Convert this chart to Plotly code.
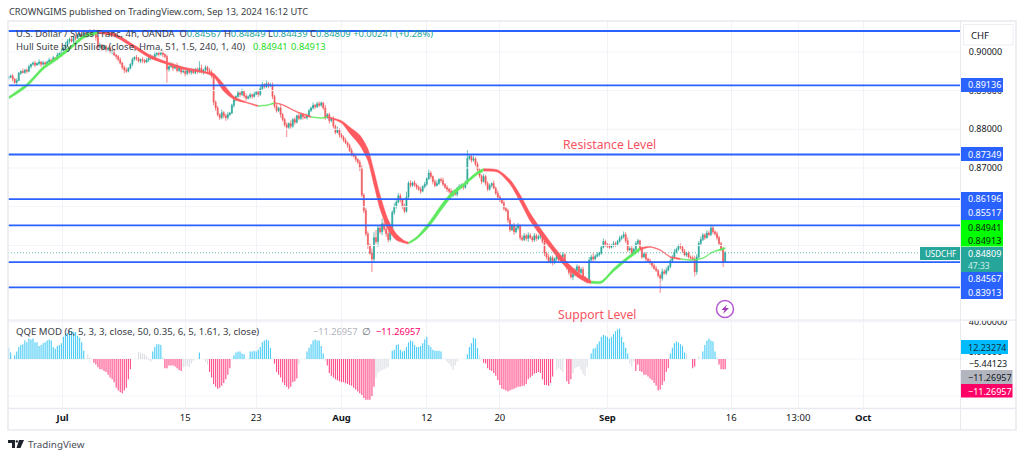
import plotly.graph_objects as go

W, H = 1024, 458

close_pips = [
 8935,8938,8930,8921,8926,8945,8950,8947,8953,8950,
 8962,8968,8971,8966,8970,8974,8968,8972,8969,8974,
 8979,8976,8985,8983,8992,8996,9002,9010,9018,9028,
 9033,9027,9038,9035,9042,9046,9040,9048,9044,9050,
 9046,9052,9049,9038,9012,9018,9009,9014,9006,9010,
 9000,9003,8992,8988,8980,8971,8960,8953,8950,8957,
 8968,8981,8986,8983,8976,8980,8978,8974,8979,8984,
 8988,8985,8993,8997,8994,8998,8993,8988,8955,8962,
 8968,8958,8965,8952,8958,8948,8950,8944,8952,8947,
 8951,8946,8955,8950,8958,8947,8953,8960,8952,8948,
 8938,8870,8855,8838,8830,8843,8835,8830,8838,8842,
 8862,8876,8885,8894,8890,8898,8886,8880,8884,8889,
 8885,8891,8896,8890,8905,8916,8910,8918,8912,8915,
 8885,8860,8848,8855,8838,8825,8812,8805,8815,8808,
 8825,8818,8835,8828,8838,8832,8830,8835,8848,8855,
 8862,8858,8866,8862,8868,8855,8830,8838,8822,8828,
 8808,8792,8800,8785,8780,8772,8765,8758,8745,8735,
 8730,8722,8715,8700,8630,8590,8530,8500,8480,8465,
 8520,8510,8545,8535,8556,8542,8530,8515,8535,8585,
 8600,8612,8628,8618,8600,8588,8625,8661,8655,8662,
 8656,8650,8645,8640,8652,8658,8672,8687,8678,8665,
 8655,8660,8670,8668,8658,8650,8645,8640,8630,8638,
 8632,8648,8652,8656,8650,8660,8725,8730,8720,8724,
 8710,8695,8680,8665,8678,8660,8645,8655,8660,8648,
 8635,8625,8618,8610,8595,8590,8565,8540,8552,8535,
 8545,8550,8520,8515,8525,8518,8526,8520,8514,8525,
 8518,8522,8525,8510,8480,8470,8458,8468,8455,8465,
 8475,8462,8470,8476,8455,8442,8430,8418,8425,8435,
 8445,8430,8438,8418,8410,8405,8462,8470,8465,8472,
 8476,8480,8495,8510,8502,8498,8495,8500,8505,8502,
 8510,8518,8522,8528,8512,8488,8492,8480,8490,8505,
 8512,8490,8470,8478,8465,8460,8455,8448,8440,8435,
 8422,8415,8432,8428,8436,8445,8460,8470,8483,8490,
 8498,8496,8485,8475,8480,8470,8468,8465,8432,8470,
 8505,8515,8527,8520,8532,8528,8545,8535,8530,8520,
 8505,8490,8457,8481,
]
upper_wick = [
 4,3,5,2,6,3,2,7,3,4,
 5,2,4,6,3,7,2,5,3,4,
 6,3,5,2,7,4,6,3,8,5,
 4,7,3,6,5,2,8,4,6,3,
 9,4,7,3,5,6,2,5,4,3,
 6,3,5,2,4,6,3,5,7,4,
 3,5,2,6,4,3,7,4,5,2,
 6,3,8,4,5,3,6,4,5,3,
 6,4,3,7,5,2,6,3,5,4,
 3,6,4,5,18,9,3,5,4,6,
 5,7,4,6,3,8,4,5,7,3,
 4,6,3,5,4,7,3,6,4,5,
 3,6,4,5,7,6,3,8,4,5,
 6,4,5,3,7,4,5,6,3,8,
 4,6,3,7,5,4,3,6,5,4,
 7,3,5,6,4,3,8,4,5,3,
 6,4,7,3,5,4,6,3,5,7,
 4,5,3,6,8,5,7,6,5,12,
 14,20,6,9,13,7,5,8,10,6,
 9,5,7,6,4,8,14,5,7,3,
 6,4,5,7,3,6,4,9,5,3,
 6,8,4,5,7,3,6,4,8,5,
 7,3,6,4,5,8,21,6,5,7,
 4,6,5,3,7,4,6,5,3,8,
 4,7,5,3,6,4,5,7,3,6,
 5,8,4,6,7,5,8,6,4,7,
 5,6,4,3,5,4,7,5,6,4,
 5,7,3,6,4,5,8,6,4,7,
 6,4,5,7,3,5,8,6,10,5,
 7,4,6,8,5,4,7,3,6,5,
 4,7,5,8,6,9,5,7,4,6,
 5,3,6,4,5,3,6,4,5,7,
 4,5,8,6,7,4,6,5,8,4,
 5,7,4,6,3,5,4,6,8,7,
 6,8,5,4,7,6,9,5,4,6,
 5,4,6,4,
]
lower_wick = [
 5,3,6,4,7,2,5,3,4,6,
 3,5,4,6,2,5,7,3,6,4,
 5,7,3,6,4,2,5,6,3,4,
 7,3,5,6,2,4,6,3,5,4,
 3,7,5,9,8,4,6,3,7,5,
 4,6,3,7,5,4,6,8,4,3,
 2,5,4,6,3,5,7,4,3,5,
 6,4,3,5,6,4,7,5,35,6,
 4,7,3,5,4,6,3,7,4,5,
 6,3,4,7,5,3,6,4,5,7,
 6,8,7,5,6,4,7,8,5,4,
 3,6,4,3,7,4,5,6,3,5,
 6,4,3,7,4,3,5,4,6,3,
 7,6,5,4,8,5,6,25,5,7,
 4,6,3,5,4,7,3,5,4,3,
 4,6,3,5,4,5,6,3,7,4,
 6,5,3,7,4,5,3,6,4,5,
 3,6,4,8,5,7,6,9,5,34,
 7,6,14,5,9,6,8,7,5,4,
 6,5,3,7,6,5,4,3,6,4,
 5,6,4,7,3,5,4,3,6,7,
 5,3,4,6,5,4,7,6,3,5,
 4,6,3,5,7,4,3,5,6,4,
 5,4,6,7,3,6,5,4,6,3,
 5,4,6,3,5,4,7,6,3,8,
 4,6,7,5,4,6,9,4,6,5,
 7,4,6,5,8,6,4,5,7,4,
 6,5,4,3,7,5,6,4,8,5,
 6,7,4,5,6,4,3,5,6,4,
 3,5,4,3,6,5,4,3,5,6,
 4,3,5,4,6,5,3,7,4,3,
 4,6,5,3,6,4,5,6,3,4,
 5,38,6,4,5,3,4,5,3,4,
 4,6,5,3,5,4,6,5,12,8,
 3,5,4,6,3,5,4,6,5,7,
 6,5,13,0,
]

hull_bar = [0,9,17,24,31,37,44,52,62,70,78,86,96,101,106,111,118,123,128,131,135,142,149,154,157,164,168,173,177,180,183,187,191,195,197,201,207,213,218,224,231,234,241,247,252,257,262,268,275,282,287,292,298,305,311,316,321,326,331,336,342,347,353]
hull_fast = [8884,8918,8962,8988,9017,9043,9054,9048,9017,8991,8974,8961,8950,8944,8916,8885,8869,8861,8864,8869,8864,8846,8833,8830,8833,8822,8806,8785,8749,8692,8630,8566,8530,8512,8508,8522,8559,8604,8636,8660,8691,8698,8695,8670,8631,8583,8544,8501,8457,8424,8408,8408,8440,8471,8494,8497,8489,8471,8466,8463,8468,8484,8494]
hull_slow = [8878,8910,8954,8980,9009,9035,9048,9040,9009,8983,8968,8955,8946,8936,8898,8877,8867,8859,8862,8867,8862,8844,8831,8828,8831,8816,8790,8759,8719,8656,8594,8540,8514,8506,8504,8516,8547,8590,8624,8652,8683,8692,8689,8658,8613,8563,8526,8485,8441,8412,8402,8402,8432,8463,8488,8495,8487,8469,8464,8461,8466,8482,8491]
hull_sections = [(0,44,"g"),(44,123,"r"),(123,131,"g"),(131,149,"r"),(149,157,"g"),(157,197,"r"),(197,234,"g"),(234,287,"r"),(287,311,"g"),(311,331,"r"),(331,353,"g")]

level_prices = [0.90540,0.89136,0.87349,0.86196,0.85517,0.84567,0.83913]
last_price = 0.84809

qqe_runs = [
 (0,"b",[12,7,0,4,8,13,15,16,20,18,22,21,22,18,18,14,15,17,18,20,21,20,13,11,14,15,17,24,27,28,31,30,29,29,25,23,18,9]),
 (39,"g",[5,2]),
 (42,"p",[-4,-6,-9,-11,-11,-13,-14,-17,-20,-22,-25,-31,-34,-36,-37,-34,-31,-22,-11]),
 (64,"g",[8,7,6,5,3,-1,-3]),
 (71,"b",[8,13,16,16,15]),
 (76,"g",[2]),
 (77,"p",[-10,-10,-7,-7,-7,-8,-10,-12,-13]),
 (86,"g",[-9,-8,-7,-9,-5,-2]),
 (94,"b",[7]),
 (97,"g",[-3,-6]),
 (99,"p",[-14,-20,-27,-30,-32,-31,-29,-26,-22,-17,-10]),
 (111,"b",[4,7,8,8,6,5]),
 (119,"b",[8,8,9,8,10,13,18,20,21,20,12]),
 (131,"p",[-5,-14,-17,-20,-25,-28,-30,-32,-30,-25,-24,-21]),
 (143,"g",[-6]),
 (147,"b",[8,12,16,20,21,20,20,14,6]),
 (156,"g",[-2]),
 (157,"p",[-7,-15,-18,-20,-22,-23,-24,-25,-25,-26,-27,-28,-29,-31,-33,-35,-37,-39,-42,-44,-44,-44,-40,-30]),
 (181,"g",[-20,-15,-13,-12,-11,-10,-9]),
 (189,"b",[9,10,15,16,10,8,9,13,18,20,19,15,13,13,14,17,21,24,15,13,10,9,9,9,8]),
 (216,"g",[-3,-5,-8,-12,-7,-3]),
 (226,"b",[5,13,17,23,22,12]),
 (232,"g",[4]),
 (234,"p",[-4,-5,-10,-12,-13,-15,-18,-23,-28,-32,-33,-34,-35,-34,-33,-32,-31,-30,-30,-29,-29,-27,-22,-20,-18,-16,-15,-14,-15,-22,-28,-28,-29,-26,-19]),
 (270,"g",[-12,-10,-12,-14]),
 (275,"p",[-24,-27,-22]),
 (278,"g",[-15,-10,-9,-8,-12,-16,-18,-9]),
 (287,"b",[6,11,12,16,19,24,26,25,24,22,24,27,30,32,33,24,18,12,6]),
 (306,"g",[-5,-8,-3]),
 (309,"p",[-13,-6,-13,-14,-17,-17,-19,-21,-23,-26,-29,-34,-33,-28,-24,-14,-10]),
 (326,"b",[6,12,17,19,18,16,14,7]),
 (334,"g",[6]),
 (337,"p",[-10,-8]),
 (340,"g",[3]),
 (342,"b",[8,15,20,22,20,19,8]),
 (349,"g",[2]),
 (350,"p",[-6,-11,-11,-11]),
]

time_ticks = [26.6,87,122,164,206,242,295,356,389,421]
time_labels = ["<b>Jul</b>","15","23","<b>Aug</b>","12","20","<b>Sep</b>","16","13:00","<b>Oct</b>"]
price_ticks = [0.90,0.89,0.88,0.87]
price_grid = [0.90,0.89,0.88,0.87,0.86,0.85,0.84]
qqe_ticks = [40,8,-5.44123]
qqe_labels = ["40.00000","8.00000","−5.44123"]

FONT = "Noto Sans"
TEAL, RED = "#26a69a", "#f0565a"
HULL = {"g": "#5fe95f", "r": "#ff5a60"}
QQE = {"b": "#4fcdf6", "p": "#ff4f8b", "g": "#dcdee4"}
BLUE = "#2962ff"
GRID = "#f1f3f8"
BORDER = "#e8eaf0"
LEGEND_TEXT = "#3a3d46"

bars = list(range(len(close_pips)))
closes = [c / 10000 for c in close_pips]
opens = [0.8932] + closes[:-1]
highs = [max(o, c) + u / 10000 for o, c, u in zip(opens, closes, upper_wick)]
lows = [min(o, c) - l / 10000 for o, c, l in zip(opens, closes, lower_wick)]

fig = go.Figure()
X_RANGE = [-0.3, 468.7]

for p in price_grid:
    fig.add_trace(go.Scatter(x=X_RANGE, y=[p, p], mode="lines", line=dict(color=GRID, width=1), hoverinfo="skip"))

fig.add_trace(go.Candlestick(
    x=bars, open=opens, high=highs, low=lows, close=closes, whiskerwidth=0,
    increasing=dict(line=dict(color=TEAL, width=0.7), fillcolor=TEAL),
    decreasing=dict(line=dict(color=RED, width=0.7), fillcolor=RED)))

for start, end, col in hull_sections:
    a, b = hull_bar.index(start), hull_bar.index(end) + 1
    xs = hull_bar[a:b] + hull_bar[a:b][::-1]
    ys = [v / 10000 for v in hull_fast[a:b]] + [v / 10000 for v in hull_slow[a:b]][::-1]
    fig.add_trace(go.Scatter(x=xs, y=ys, mode="lines", fill="toself", fillcolor=HULL[col],
                             line=dict(color=HULL[col], width=0.5, shape="spline", smoothing=0.7),
                             hoverinfo="skip"))

fig.add_trace(go.Scatter(x=X_RANGE, y=[last_price, last_price], mode="lines",
                         line=dict(color=TEAL, width=1, dash="1px 2px"), opacity=0.7, hoverinfo="skip"))
for p in level_prices:
    fig.add_trace(go.Scatter(x=X_RANGE, y=[p, p], mode="lines", line=dict(color=BLUE, width=1.8), hoverinfo="skip"))

for v in (40, 0, -40):
    fig.add_trace(go.Scatter(x=X_RANGE, y=[v, v], mode="lines", xaxis="x2", yaxis="y2",
                             line=dict(color=GRID, width=1), hoverinfo="skip"))
for kind, col in QQE.items():
    qx, qy = [], []
    for start, k, vals in qqe_runs:
        if k != kind:
            continue
        for n, v in enumerate(vals):
            qx += [start + n, start + n, None]
            qy += [0, v, None]
    fig.add_trace(go.Scatter(x=qx, y=qy, mode="lines", line=dict(color=col, width=1.15),
                             xaxis="x2", yaxis="y2", hoverinfo="skip"))


def px(x):
    return x / W


def py(y):
    return 1 - y / H


annotations, shapes = [], []


def text(x, y, s, size=10, color="#131722", anchor="left"):
    annotations.append(dict(x=px(x), y=py(y), xref="paper", yref="paper", text=s, showarrow=False,
                            xanchor=anchor, yanchor="middle", align=anchor, borderpad=0,
                            font=dict(family=FONT, size=size, color=color)))


def rect(x0, y0, x1, y1, fill, line=None, lw=0):
    shapes.append(dict(type="rect", xref="paper", yref="paper", x0=px(x0), x1=px(x1), y0=py(y0), y1=py(y1),
                       fillcolor=fill, line=dict(color=line or fill, width=lw), layer="above"))


def path(points, fill):
    d = "M" + " L".join(f"{px(a):.5f},{py(b):.5f}" for a, b in points) + " Z"
    shapes.append(dict(type="path", xref="paper", yref="paper", path=d, fillcolor=fill,
                       line=dict(width=0), layer="above"))


# right scale: hides the top of 40.00000, as the pane edge does
rect(961, 310, 1015, 320.5, "#ffffff")

# pane frame
rect(8, 21, 1016, 430, "rgba(0,0,0,0)", BORDER, 1.6)
rect(8, 319.6, 1016, 320.8, BORDER)
rect(8, 407.8, 1016, 409.2, BORDER)
rect(960, 21, 961, 430, BORDER)

# header and legends
text(8, 11, "CROWNGIMS published on TradingView.com, Sep 13, 2024 16:12 UTC", 9.25, LEGEND_TEXT)
g = f'<span style="color:{TEAL}">'
text(15, 33, f'U.S. Dollar / Swiss Franc, 4h, OANDA  O{g}0.84567</span> H{g}0.84849</span> '
             f'L{g}0.84439</span> C{g}0.84809</span> {g}+0.00241 (+0.28%)</span>', 9.4, LEGEND_TEXT)
text(15, 47, "Hull Suite by InSilico (close, Hma, 51, 1.5, 240, 1, 40)", 9.5, LEGEND_TEXT)
text(252, 47, "0.84941", 9.4, "#22dd22")
text(290, 47, "0.84913", 9.4, "#22dd22")
text(15, 331, "QQE MOD (6, 5, 3, 3, close, 50, 0.35, 6, 5, 1.61, 3, close)", 9.6, LEGEND_TEXT)
text(312, 331, "−11.26957", 9.2, "#b2b5be")
text(361, 331, "∅", 9.5, "#6a6d78")
text(375, 331, "−11.26957", 9.2, "#ff0066")

# drawn annotations
text(562, 144, "Resistance Level", 12.2, "#f7525f")
text(557, 314, "Support Level", 12.2, "#f7525f")

# CHF chip
rect(963.5, 24.5, 1013, 45, "#ffffff", "#eceef3", 1)
text(970, 35, "CHF", 9.5, "#131722")

# price labels
blue_labels = [(85, "0.89136"), (154, "0.87349"), (199, "0.86196"), (213, "0.85517"), (278, "0.84567"), (292, "0.83913")]
for y, s in blue_labels:
    rect(961, y - 7, 1003, y + 7, BLUE)
    text(967, y, s, 9, "#ffffff")
for y, s in [(227, "0.84941"), (240, "0.84913")]:
    rect(961, y - 7, 1003, y + 6.5, "#00ff00")
    text(967, y, s, 9, "#0b2a0b")
rect(961, 247, 1003, 272, TEAL)
text(967, 254, "0.84809", 9, "#ffffff")
text(967, 265, "47:33", 8.5, "#cfeee9")
rect(920, 247, 960, 260, TEAL)
text(924, 253.5, "USDCHF", 8, "#ffffff")

rect(961, 340, 1008, 354, "#00bcff")
text(967, 347, "12.23274", 9, "#10313f")
rect(961, 370, 1012.5, 384, "#b2b5be")
text(967, 377, "−11.26957", 9, "#131722")
rect(961, 384, 1012.5, 397.5, "#ff0066")
text(967, 391, "−11.26957", 9, "#ffffff")

# lightning badge
shapes.append(dict(type="circle", xref="paper", yref="paper", x0=px(716.5), x1=px(733.5), y0=py(317.5), y1=py(300.5),
                   fillcolor="#ffffff", line=dict(color="#b45ad0", width=1.5), layer="above"))
path([(727, 304.5), (721.5, 310), (724.5, 310), (723, 314), (729, 308), (725.5, 308)], "#a23bb8")

# TradingView mark
path([(8, 440), (15, 440), (15, 448), (12, 448), (12, 443), (8, 443)], "#1e222d")
path([(19, 440), (24, 440), (20.5, 448), (16.5, 448)], "#1e222d")
shapes.append(dict(type="circle", xref="paper", yref="paper", x0=px(15.6), x1=px(18), y0=py(442.6), y1=py(440.2),
                   fillcolor="#1e222d", line=dict(width=0), layer="above"))
text(27, 444, "TradingView", 9.8, "#4a4e59")

fig.update_layout(
    width=W, height=H, margin=dict(l=0, r=0, t=0, b=0, autoexpand=False), autosize=False,
    paper_bgcolor="#ffffff", plot_bgcolor="#ffffff", showlegend=False,
    font=dict(family=FONT, size=9, color="#131722"),
    annotations=annotations, shapes=shapes,
    xaxis=dict(domain=[8 / W, 960 / W], range=X_RANGE, anchor="y", rangeslider=dict(visible=False), automargin=False,
               tickvals=time_ticks, ticktext=[""] * len(time_ticks), showticklabels=False, ticks="",
               showgrid=True, gridcolor=GRID, gridwidth=1, zeroline=False, showline=False),
    yaxis=dict(domain=[1 - 320 / H, 1 - 21 / H], range=[0.83072, 0.90798], side="right", anchor="x", automargin=False,
               tickvals=price_ticks, ticktext=[f"{p:.5f}" for p in price_ticks],
               ticks="outside", ticklen=6, tickcolor="rgba(0,0,0,0)", tickfont=dict(size=9),
               showgrid=False, zeroline=False, showline=False),
    xaxis2=dict(domain=[8 / W, 960 / W], range=X_RANGE, anchor="y2", automargin=False,
                tickvals=time_ticks, ticktext=time_labels, tickfont=dict(size=9.5),
                ticks="outside", ticklen=1, tickcolor="rgba(0,0,0,0)",
                showgrid=True, gridcolor=GRID, gridwidth=1, zeroline=False, showline=False),
    yaxis2=dict(domain=[1 - 408 / H, 1 - 321 / H], range=[-52.9, 41], side="right", anchor="x2", automargin=False,
                tickvals=qqe_ticks, ticktext=qqe_labels, tickfont=dict(size=9),
                ticks="outside", ticklen=6, tickcolor="rgba(0,0,0,0)",
                showgrid=False, zeroline=False, showline=False),
)

fig.write_html(
    "out.html", config=dict(displayModeBar=False),
    post_script="document.documentElement.style.overflow='hidden';"
                "document.body.style.margin='0';document.body.style.padding='0';"
                "var p=document.querySelector('.plotly-graph-div');"
                "p.style.position='fixed';p.style.left='0';p.style.top='0';",
)
